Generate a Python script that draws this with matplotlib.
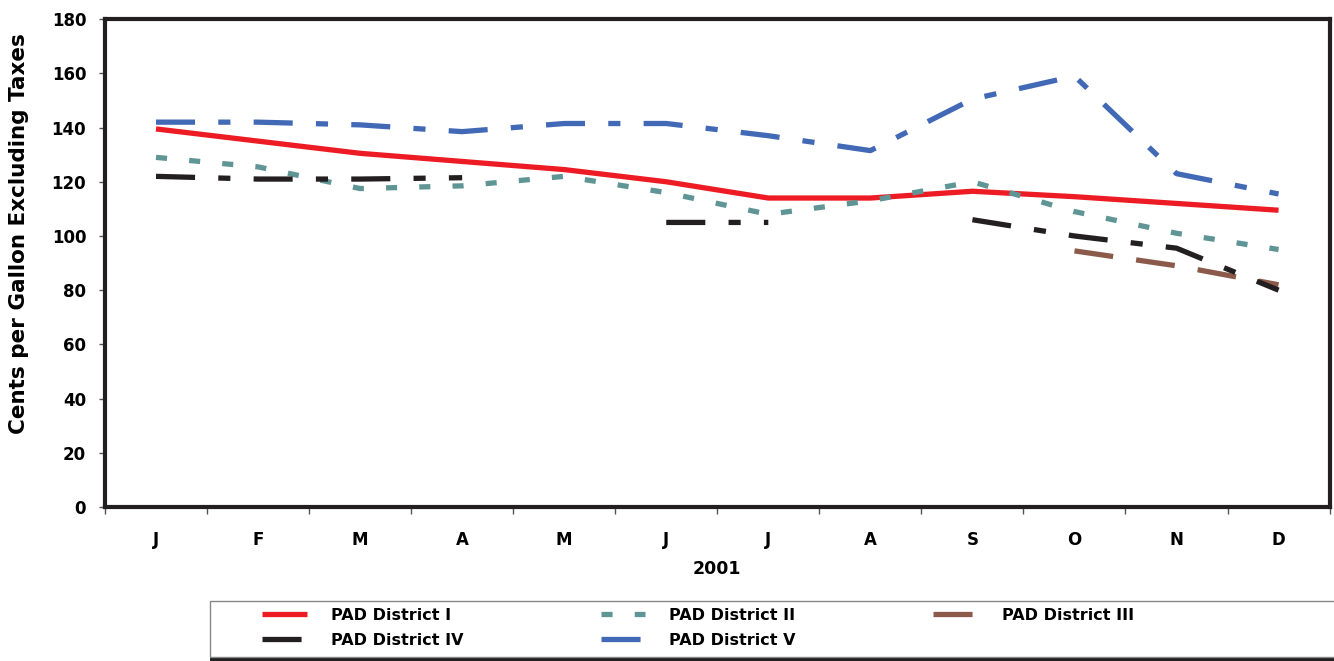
import numpy as np
import matplotlib
matplotlib.use('Agg')
import matplotlib.pyplot as plt
from matplotlib.patches import Rectangle

months = ['J', 'F', 'M', 'A', 'M', 'J', 'J', 'A', 'S', 'O', 'N', 'D']
nan = np.nan
pad1 = [139.5, 135, 130.5, 127.5, 124.5, 120, 114, 114, 116.5, 114.5, 112, 109.5]
pad2 = [129, 125.5, 117.5, 118.5, 122, 116, 108, 113, 120, 109, 101, 95]
pad3 = [nan, nan, nan, nan, nan, nan, nan, nan, nan, 94.5, 89, 82]
pad4 = [122, 121, 121, 121.5, nan, 105, 105, nan, 106, 100, 95.5, 80]
pad5 = [142, 142, 141, 138.5, 141.5, 141.5, 137, 131.5, 150.5, 159, 123, 115.5]

plt.rcParams['font.family'] = ['DejaVu Sans']
plt.rcParams['font.weight'] = 'bold'

fig = plt.figure(figsize=(13.34, 6.61), dpi=100)
ax = fig.add_axes([0.0787, 0.233, 0.918, 0.738])

x = np.arange(len(months))
lw = 3.8
ax.plot(x, pad1, color='#ED1C24', lw=lw, solid_capstyle='butt', label='PAD District I')
ax.plot(x, pad2, color='#5F9595', lw=lw, dashes=(2.1, 4.2), label='PAD District II')
ax.plot(x, pad3, color='#8B5A4A', lw=lw, dashes=(7.4, 4.4), label='PAD District III')
ax.plot(x, pad4, color='#231F20', lw=lw, dashes=(7.4, 4.4, 2.3, 4.4), label='PAD District IV')
ax.plot(x, pad5, color='#4169B5', lw=lw, dashes=(7.4, 4.4, 2.3, 4.4), label='PAD District V')

ax.set_xlim(-0.5, 11.5)
ax.set_ylim(0, 180)
ax.set_yticks(range(0, 181, 20))
ax.set_xticks(x)
ax.set_xticklabels(months)
ax.set_xticks(np.arange(-0.5, 12, 1), minor=True)
ax.tick_params(axis='x', which='major', length=0, pad=17, labelsize=12)
ax.tick_params(axis='x', which='minor', length=5, width=1, direction='out', color='#555555')
ax.tick_params(axis='y', length=4.5, width=1, direction='out', labelsize=12, pad=9, color='#555555')
for s in ax.spines.values():
    s.set_linewidth(3)
    s.set_color('#231F20')

ax.set_ylabel('Cents per Gallon Excluding Taxes', fontsize=15.5, fontweight='bold')
ax.yaxis.label.set_va('center')
ax.yaxis.set_label_coords(-0.0702, 0.56)
ax.set_xlabel('2001', fontsize=12.5, fontweight='bold')
ax.xaxis.label.set_va('center')
ax.xaxis.set_label_coords(0.5, -0.127)

# legend box with dark shadow along the bottom
W, H = 1334.0, 661.0
fig.patches.append(Rectangle((210 / W, 1 - 661 / H), 1.0, 4 / H, transform=fig.transFigure,
                             facecolor='#231F20', edgecolor='none', zorder=0))
fig.patches.append(Rectangle((210 / W, 1 - 657 / H), 1.0, 56 / H, transform=fig.transFigure,
                             facecolor='white', edgecolor='#888888', lw=1, zorder=1))

handles, labels = ax.get_legend_handles_labels()
order = [0, 3, 1, 4, 2]
leg = fig.legend([handles[i] for i in order], [labels[i] for i in order],
                 loc='upper left', bbox_to_anchor=(262 / W, 1 - 608 / H),
                 ncol=3, frameon=False, prop={'size': 11.5, 'weight': 'bold'},
                 handlelength=2.8, handletextpad=1.5, columnspacing=8.6,
                 borderaxespad=0, borderpad=0, labelspacing=0.62)
leg.set_zorder(2)

fig.savefig('out.png', dpi=100)
